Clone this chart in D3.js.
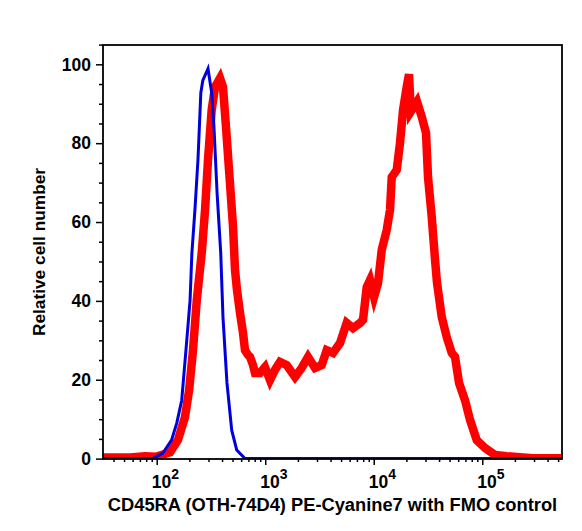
<!DOCTYPE html>
<html>
<head>
<meta charset="utf-8">
<script src="https://cdn.jsdelivr.net/npm/d3@7"></script>
<style>
  body { margin: 0; background: #fff; }
  text { font-family: "Liberation Sans", Arial, sans-serif; font-weight: bold; fill: #000; }
</style>
</head>
<body>
<div id="chart"></div>
<script>
// FMO control (blue)
var fmoX = [32, 70, 92, 114, 137, 153, 170, 186, 203, 211, 225, 240, 255, 266, 297,
  321, 337, 360, 389, 408, 444, 491, 546, 651, 543000];
var fmoY = [0, 0, 0, 1.4, 4.7, 9.0, 14.8, 27.5, 40.2, 52.2, 63.1, 75.8, 92.8, 95.9, 98.9,
  92.8, 84.1, 67.4, 52.2, 35.9, 19.2, 7.2, 2.2, 0, 0];

// CD45RA PE-Cyanine7 (red)
var stainX = [32, 57, 78, 100, 133, 157, 182, 199, 216, 234, 260, 279, 297, 321, 345, 383,
  408, 435, 464, 505, 527, 549, 586, 624, 651, 694, 724, 772, 805, 895, 995, 1107, 1230,
  1368, 1577, 1882, 2168, 2480, 2877, 3315, 3687, 4217, 4890, 5634, 6442, 7477, 7967,
  8615, 9240, 10070, 10950, 11850, 13180, 14130, 14650, 16290, 17470, 18620, 20140, 21140,
  21930, 25060, 27680, 30330, 31650, 34240, 36730, 38320, 42340, 47080, 52360, 56110,
  61120, 69370, 77190, 88980, 106100, 131300, 168200, 208000, 294000, 543000];
var stainY = [0.3, 0.3, 0.6, 0.5, 1.6, 4.7, 10.5, 17.4, 27.5, 40.2, 52.2, 63.1, 75.8, 88.4, 94.3, 96.5,
  94.3, 84.1, 73.2, 58.8, 47.8, 42.8, 36.9, 31.9, 27.5, 26.3, 25.8, 23.7, 21.7, 21.7, 23.2, 19.9, 22.5,
  24.5, 23.7, 20.7, 23.0, 25.8, 23.0, 23.7, 27.5, 26.8, 29.3, 34.4, 33.1, 34.4, 35.2,
  43.5, 45.3, 41.0, 44.5, 52.9, 58.0, 63.1, 71.4, 73.2, 80.1, 88.4, 94.3, 97.5,
  88.0, 90.5, 86.7, 82.6, 71.4, 61.3, 50.4, 44.5, 35.9, 30.8, 26.8, 25.8,
  19.2, 14.8, 9.8, 4.7, 2.7, 0.9, 0.6, 0.4, 0.1, 0.1];

var xTickExp = [2, 3, 4, 5];
var yTicks = [0, 20, 40, 60, 80, 100];
var xTitle = "CD45RA (OTH-74D4) PE-Cyanine7 with FMO control";
var yTitle = "Relative cell number";

var width = 582, height = 531;
var margin = { top: 45, right: 20, bottom: 72, left: 103 };
var innerW = width - margin.left - margin.right;
var innerH = height - margin.top - margin.bottom;

var svg = d3.select("#chart").append("svg").attr("width", width).attr("height", height);

var x = d3.scaleLog().domain([Math.pow(10, 1.505), Math.pow(10, 5.735)]).range([0, innerW]);
var y = d3.scaleLinear().domain([-0.1, 104.9]).range([innerH, 0]);

var g = svg.append("g").attr("transform", "translate(" + margin.left + "," + margin.top + ")");

g.append("clipPath").attr("id", "clip")
  .append("rect").attr("width", innerW).attr("height", innerH);

// minor / major ticks
var minorX = [];
for (var e = 1; e <= 5; e++) {
  for (var m = 2; m <= 9; m++) {
    var v = m * Math.pow(10, e);
    if (v >= x.domain()[0] && v <= x.domain()[1]) minorX.push(v);
  }
}
var minorY = d3.range(0, 106, 5).filter(function(d) { return yTicks.indexOf(d) < 0; });

var axisMinorX = d3.axisBottom(x).tickValues(minorX).tickSize(3).tickFormat("");
var axisMajorX = d3.axisBottom(x).tickValues(xTickExp.map(function(d) { return Math.pow(10, d); })).tickSize(6).tickFormat("");
var axisMinorY = d3.axisLeft(y).tickValues(minorY).tickSize(4).tickFormat("");
var axisMajorY = d3.axisLeft(y).tickValues(yTicks).tickSize(7).tickFormat("");

[axisMinorX, axisMajorX].forEach(function(a) {
  g.append("g").attr("transform", "translate(0," + innerH + ")").call(a)
    .call(function(s) { s.select(".domain").remove(); s.selectAll("line").attr("stroke", "#000").attr("stroke-width", 1.5); });
});
[axisMinorY, axisMajorY].forEach(function(a) {
  g.append("g").call(a)
    .call(function(s) { s.select(".domain").remove(); s.selectAll("line").attr("stroke", "#000").attr("stroke-width", 1.5); });
});

// y tick labels
g.append("g").selectAll("text")
  .data(yTicks)
  .enter()
  .append("text")
  .attr("x", -12)
  .attr("y", function(d) { return y(d); })
  .attr("dy", "0.36em")
  .attr("text-anchor", "end")
  .attr("font-size", "17.5px")
  .text(function(d) { return d; });

// x tick labels 10^n
var xl = g.append("g").selectAll("text")
  .data(xTickExp)
  .enter()
  .append("text")
  .attr("x", function(d) { return x(Math.pow(10, d)) - 5; })
  .attr("y", innerH + 29)
  .attr("font-size", "17.5px");
xl.append("tspan").text("10");
xl.append("tspan").attr("dy", -9).attr("font-size", "14px").text(function(d) { return d; });

// curves
var line = d3.line()
  .x(function(d) { return x(d[0]); })
  .y(function(d) { return y(d[1]); });

var plot = g.append("g").attr("clip-path", "url(#clip)");

plot.append("path")
  .datum(d3.zip(stainX, stainY))
  .attr("fill", "none")
  .attr("stroke", "#ff0000")
  .attr("stroke-width", 8.5)
  .attr("stroke-linejoin", "miter")
  .attr("d", line);

plot.append("path")
  .datum(d3.zip(fmoX, fmoY))
  .attr("fill", "none")
  .attr("stroke", "#0000dd")
  .attr("stroke-width", 3)
  .attr("d", line);

// frame
g.append("rect")
  .attr("width", innerW)
  .attr("height", innerH)
  .attr("fill", "none")
  .attr("stroke", "#000")
  .attr("stroke-width", 1.8);

// titles
svg.append("text")
  .attr("x", margin.left + innerW / 2 + 0)
  .attr("y", 511)
  .attr("text-anchor", "middle")
  .attr("font-size", "18.3px")
  .text(xTitle);

svg.append("text")
  .attr("transform", "rotate(-90)")
  .attr("x", -252)
  .attr("y", 45)
  .attr("text-anchor", "middle")
  .attr("font-size", "17.3px")
  .text(yTitle);
</script>
</body>
</html>
